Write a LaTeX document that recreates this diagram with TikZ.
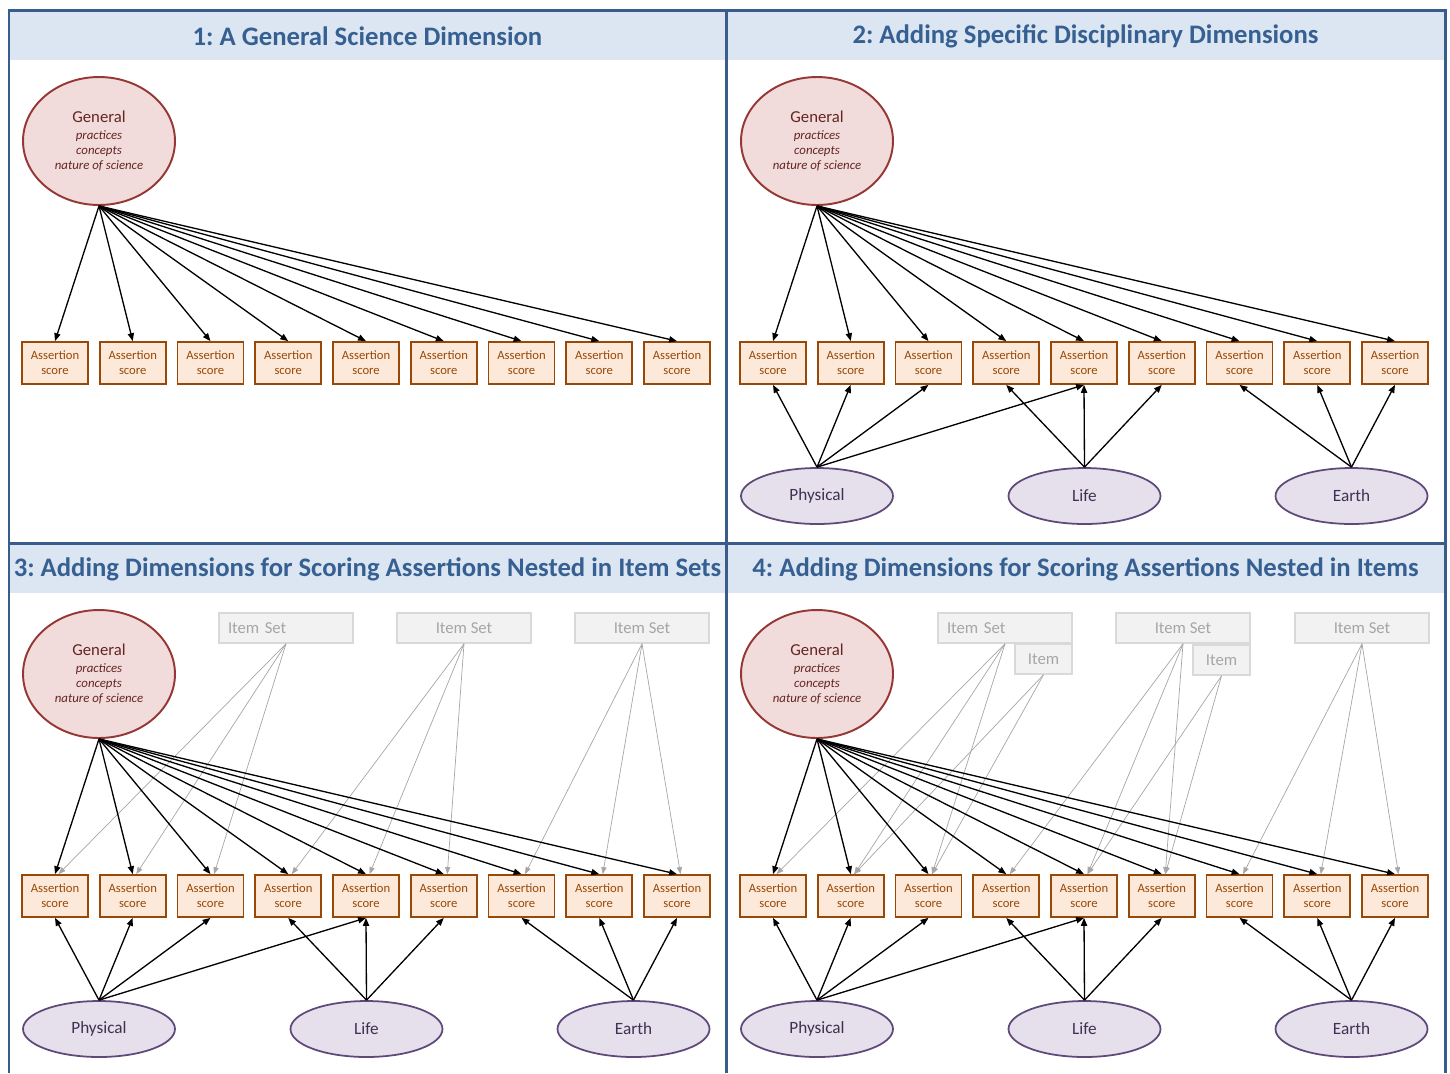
\documentclass[tikz,border=0pt]{standalone}
\usepackage{fontspec}
\setmainfont{Carlito}
\frenchspacing
\usetikzlibrary{arrows.meta, positioning, shapes.geometric}
\definecolor{framebl}{RGB}{56,93,138}
\definecolor{bandbl}{RGB}{220,230,242}
\definecolor{titlebl}{RGB}{54,96,146}
\definecolor{genfill}{RGB}{242,220,219}
\definecolor{gendraw}{RGB}{149,55,53}
\definecolor{gentext}{RGB}{99,37,35}
\definecolor{scfill}{RGB}{253,233,217}
\definecolor{scdraw}{RGB}{152,72,7}
\definecolor{discfill}{RGB}{229,224,236}
\definecolor{discdraw}{RGB}{95,73,122}
\definecolor{disctext}{RGB}{63,49,81}
\definecolor{setfill}{RGB}{242,242,242}
\definecolor{setdraw}{RGB}{217,217,217}
\definecolor{settext}{RGB}{166,166,166}

\begin{document}
\begin{tikzpicture}[x=0.02cm, y=-0.02cm,
    general/.style={ellipse, draw=gendraw, line width=1.1pt, fill=genfill, text=gentext,
        minimum width=3.04cm, minimum height=2.56cm, inner sep=0pt, align=center,
        font=\fontsize{7.3}{8.5}\selectfont\itshape},
    score/.style={draw=scdraw, line width=1pt, fill=scfill, text=scdraw,
        minimum width=1.32cm, minimum height=0.84cm, inner sep=0pt, align=center,
        font=\fontsize{7.2}{8.5}\selectfont},
    disc/.style={ellipse, draw=discdraw, line width=1pt, fill=discfill, text=disctext,
        minimum width=3.04cm, minimum height=1.12cm, inner sep=0pt,
        font=\fontsize{9.8}{11}\selectfont},
    itemset/.style={draw=setdraw, line width=0.9pt, fill=setfill, text=settext,
        minimum width=2.68cm, minimum height=0.6cm, inner sep=0pt,
        font=\fontsize{9.5}{11}\selectfont},
    setleft/.style={text width=2.32cm, align=left, inner xsep=0.18cm},
    itembox/.style={itemset, minimum width=1.14cm},
    load/.style={-{Triangle[length=4.5pt,width=3.5pt]}, line width=0.75pt},
    nest/.style={-{Triangle[length=4pt,width=3pt]}, line width=0.4pt, draw=settext},
    paneltitle/.style={text=titlebl, font=\fontsize{15.2}{17}\selectfont\bfseries},
    frame/.style={draw=framebl, line width=1.7pt}]
    \useasboundingbox (0,0) rectangle (1450,1073);

    % Panel frames and title bands
    \fill[bandbl] (10,12) rectangle (1444,60);
    \fill[bandbl] (10,545) rectangle (1444,593);
    \draw[frame] (9,1073) -- (9,10) -- (1445,10) -- (1445,1073);
    \draw[frame] (726,10) -- (726,1073);
    \draw[frame] (9,543) -- (1445,543);

    \node[paneltitle] (title1) at (367.5,36) {1: A General Science Dimension};
    \node[paneltitle] (title2) at (1085.5,36) {2: Adding Specific Disciplinary Dimensions};
    \node[paneltitle] (title3) at (367.5,569) {3: Adding Dimensions for Scoring Assertions Nested in Item Sets};
    \node[paneltitle] (title4) at (1085.5,569) {4: Adding Dimensions for Scoring Assertions Nested in Items};

    % Item sets (panel 3)
    \node[itemset, setleft] (set3-1) at (286,628) {\mbox{Item Set}};
    \node[itemset] (set3-2) at (464,628) {Item Set};
    \node[itemset] (set3-3) at (642,628) {Item Set};

    % Item sets and items (panel 4)
    \node[itemset, setleft] (set4-1) at (1005,628) {\mbox{Item Set}};
    \node[itemset] (set4-2) at (1183,628) {Item Set};
    \node[itemset] (set4-3) at (1362,628) {Item Set};
    \node[itembox] (item4-1) at (1043.5,659) {Item};
    \node[itembox] (item4-2) at (1221.5,660) {Item};

    % General dimension and assertion scores
    \foreach \p/\dx/\dy in {1/0/0, 2/718/0, 3/0/533, 4/718/533} {
        \begin{scope}[shift={(\dx,\dy)}]
            \node[general] (gen\p) at (99,141)
                {{\upshape\fontsize{9.5}{11}\selectfont General}\\[1.5pt]practices\\concepts\\nature of science};
            \foreach \i in {1,...,9}
                \node[score] (sc\p-\i) at ({55+77.75*(\i-1)},363) {Assertion\\score};
        \end{scope}
    }

    % Nesting in item sets / items
    \foreach \p in {3,4} {
        \foreach \s/\i in {1/1, 1/2, 1/3, 2/4, 2/5, 2/6, 3/7, 3/8, 3/9}
            \draw[nest] (set\p-\s.south) -- ([xshift=2pt]sc\p-\i.north);
    }
    \foreach \s/\i in {1/2, 1/3, 2/5, 2/6}
        \draw[nest] (item4-\s.south) -- ([xshift=2pt]sc4-\i.north);

    % Loadings on the general dimension
    \foreach \p in {1,...,4} {
        \foreach \i in {1,...,9}
            \draw[load] (gen\p.south) -- (sc\p-\i.north);
    }

    % Disciplinary dimensions
    \foreach \p/\dx/\dy in {2/718/0, 3/0/533, 4/718/533} {
        \begin{scope}[shift={(\dx,\dy)}]
            \node[disc] (phys\p) at (99,496) {Physical};
            \node[disc] (life\p) at (366.5,496) {Life};
            \node[disc] (earth\p) at (633.5,496) {Earth};
            \foreach \i in {1,2,3,5}
                \draw[load] (phys\p.north) -- (sc\p-\i.south);
            \foreach \i in {4,5,6}
                \draw[load] (life\p.north) -- (sc\p-\i.south);
            \foreach \i in {7,8,9}
                \draw[load] (earth\p.north) -- (sc\p-\i.south);
        \end{scope}
    }
\end{tikzpicture}
\end{document}
